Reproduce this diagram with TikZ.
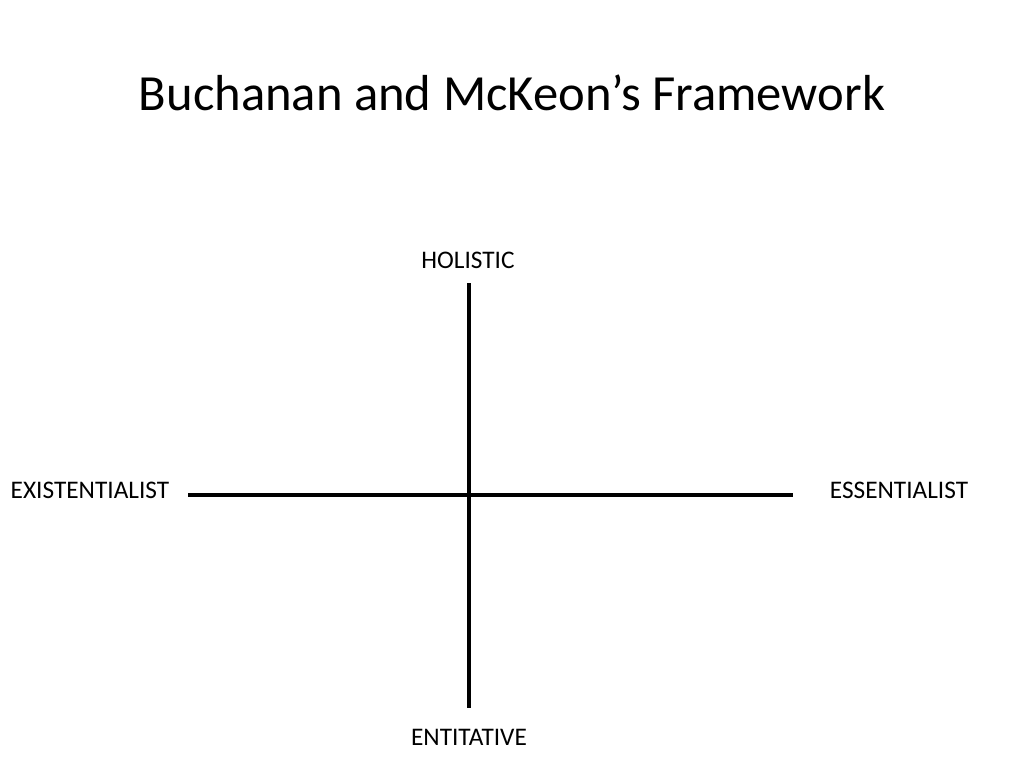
\documentclass[tikz,border=0pt]{standalone}
\usepackage{fontspec}
\setmainfont{Carlito}
\begin{document}
\begin{tikzpicture}[x=0.025cm, y=-0.025cm,
 axis/.style = {draw, line width=3pt},
 lbl/.style = {anchor=base, inner sep=0pt, font=\fontsize{18}{20}\selectfont}]

\useasboundingbox (0,0) rectangle (1024,768);

\node(title) [anchor=base, inner sep=0pt, font=\fontsize{36}{40}\selectfont] at (512,111) {Buchanan and McKeon’s Framework};

\coordinate(top) at (469,283);
\coordinate(bot) at (469,708);
\coordinate(lft) at (188,495);
\coordinate(rgt) at (793,495);

\node(hol) [lbl] at (468,268) {HOLISTIC};
\node(ent) [lbl] at (469,745) {ENTITATIVE};
\node(exi) [lbl] at (90,498) {EXISTENTIALIST};
\node(ess) [lbl] at (899,498) {ESSENTIALIST};
%
\path[axis] (top) -- (bot)
            (lft) -- (rgt);

\end{tikzpicture}
\end{document}
